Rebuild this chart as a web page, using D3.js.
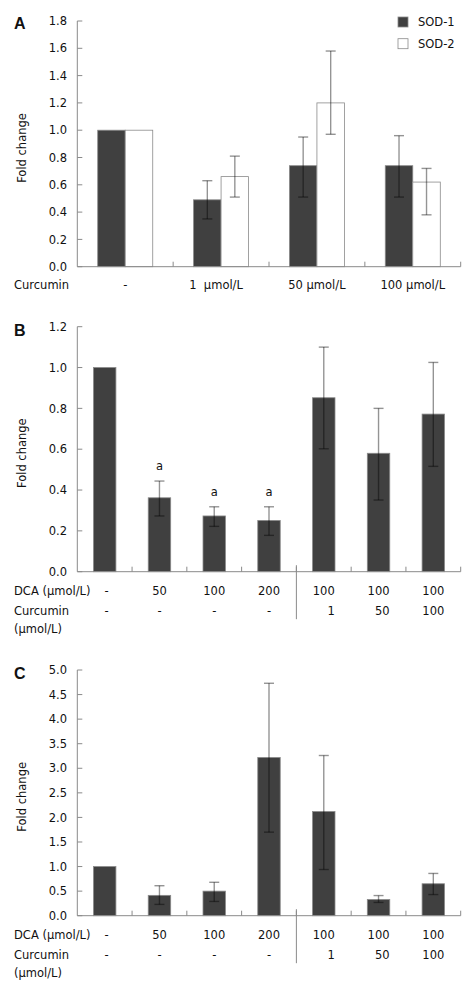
<!DOCTYPE html>
<html><head><meta charset="utf-8">
<script src="https://cdn.jsdelivr.net/npm/d3@7"></script>
<style>
body{margin:0;background:#fff;}
svg{display:block;font-family:"DejaVu Sans",Verdana,sans-serif;}
text{white-space:pre;}
</style></head>
<body>
<svg id="chart" width="472" height="991"></svg>
<script>
// ---------- Panel A data ----------
const catsA = ["-", "1  μmol/L", "50 μmol/L", "100 μmol/L"];
const seriesA = ["SOD-1", "SOD-2"];
const sod1 = [1.0, 0.49, 0.74, 0.74];
const sod1Lo = [1.0, 0.35, 0.51, 0.51];
const sod1Hi = [1.0, 0.63, 0.95, 0.96];
const sod2 = [1.0, 0.66, 1.2, 0.62];
const sod2Lo = [1.0, 0.51, 0.97, 0.38];
const sod2Hi = [1.0, 0.81, 1.58, 0.72];
const ticksA = [0, 0.2, 0.4, 0.6, 0.8, 1.0, 1.2, 1.4, 1.6, 1.8];

// ---------- Panel B / C shared categories ----------
const dcaLabels = ["-", "50", "100", "200", "100", "100", "100"];
const curLabels = ["-", "-", "-", "-", "1", "50", "100"];

// ---------- Panel B data ----------
const valsB = [1.0, 0.362, 0.273, 0.251, 0.852, 0.58, 0.772];
const loB   = [1.0, 0.273, 0.222, 0.178, 0.602, 0.351, 0.516];
const hiB   = [1.0, 0.444, 0.318, 0.318, 1.10, 0.80, 1.025];
const sigB  = ["", "a", "a", "a", "", "", ""];
const ticksB = [0, 0.2, 0.4, 0.6, 0.8, 1.0, 1.2];

// ---------- Panel C data ----------
const valsC = [1.0, 0.414, 0.50, 3.22, 2.12, 0.33, 0.65];
const loC   = [1.0, 0.23, 0.29, 1.70, 0.94, 0.27, 0.43];
const hiC   = [1.0, 0.61, 0.68, 4.73, 3.26, 0.41, 0.86];
const ticksC = [0, 0.5, 1.0, 1.5, 2.0, 2.5, 3.0, 3.5, 4.0, 4.5, 5.0];

const svg = d3.select("#chart");
const FS = "11.5px";
const axisColor = "#8a8a8a";
const barColor = "#404040";
const X0 = 77.3, X1 = 460.7;

function yAxis(g, y, ticks, fmt, yTop, yBot) {
  g.append("line").attr("x1", X0).attr("x2", X0).attr("y1", yTop).attr("y2", yBot)
    .attr("stroke", axisColor).attr("stroke-width", 1);
  ticks.forEach(t => {
    g.append("line").attr("x1", X0).attr("x2", X0 + 5).attr("y1", y(t)).attr("y2", y(t))
      .attr("stroke", axisColor).attr("stroke-width", 1);
    g.append("text").attr("x", 67).attr("y", y(t)).attr("dy", "0.36em")
      .attr("text-anchor", "end").attr("font-size", FS).attr("fill", "#111").text(fmt(t));
  });
}

function xAxisLine(g, x, n, yBot) {
  g.append("line").attr("x1", X0).attr("x2", X1).attr("y1", yBot).attr("y2", yBot)
    .attr("stroke", axisColor).attr("stroke-width", 1);
  for (let i = 1; i <= n; i++) {
    const xx = i < n ? x(i) : X1;
    g.append("line").attr("x1", xx).attr("x2", xx).attr("y1", yBot).attr("y2", yBot - 5)
      .attr("stroke", axisColor).attr("stroke-width", 1);
  }
}

function errBar(g, cx, y, lo, hi) {
  const st = {stroke: "#000", "stroke-opacity": 0.42, "stroke-width": 1.4};
  const l1 = g.append("line").attr("x1", cx).attr("x2", cx).attr("y1", y(hi)).attr("y2", y(lo));
  const l2 = g.append("line").attr("x1", cx - 5).attr("x2", cx + 5).attr("y1", y(hi)).attr("y2", y(hi));
  const l3 = g.append("line").attr("x1", cx - 5).attr("x2", cx + 5).attr("y1", y(lo)).attr("y2", y(lo));
  [l1, l2, l3].forEach(l => Object.entries(st).forEach(([k, v]) => l.attr(k, v)));
}

function ylabel(g, mid) {
  g.append("text").attr("transform", `translate(26,${mid}) rotate(-90)`)
    .attr("text-anchor", "middle").attr("font-size", FS).attr("fill", "#111").text("Fold change");
}

function panelLetter(g, letter, yb) {
  g.append("text").attr("x", 14).attr("y", yb).attr("font-size", "16px").attr("font-weight", "bold")
    .attr("font-family", "'Liberation Sans', Arial, sans-serif").attr("fill", "#111").text(letter);
}

// ---------------- Panel A ----------------
(function() {
  const yTop = 21, yBot = 266.7;
  const g = svg.append("g");
  const y = d3.scaleLinear().domain([0, 1.8]).range([yBot, yTop]);
  const x = d3.scaleBand().domain(d3.range(catsA.length)).range([X0, X1]).padding(0);
  const bw = x.bandwidth();
  const inner = d3.scaleBand().domain(seriesA).range([bw * 0.213, bw * 0.787]).padding(0);
  const data = [
    {s: "SOD-1", v: sod1, lo: sod1Lo, hi: sod1Hi, fill: barColor},
    {s: "SOD-2", v: sod2, lo: sod2Lo, hi: sod2Hi, fill: "#fff"}
  ];
  data.forEach(d => {
    d.v.forEach((v, i) => {
      g.append("rect").attr("x", x(i) + inner(d.s)).attr("y", y(v))
        .attr("width", inner.bandwidth()).attr("height", yBot - y(v))
        .attr("fill", d.fill).attr("stroke", axisColor).attr("stroke-width", 0.8);
    });
  });
  xAxisLine(g, x, catsA.length, yBot);
  yAxis(g, y, ticksA, d3.format(".1f"), yTop, yBot);
  data.forEach(d => {
    d.v.forEach((v, i) => {
      if (i === 0) return;
      errBar(g, x(i) + inner(d.s) + inner.bandwidth() / 2, y, d.lo[i], d.hi[i]);
    });
  });
  catsA.forEach((c, i) => {
    g.append("text").attr("x", x(i) + bw / 2 - (i === 1 ? 5 : 0)).attr("y", yBot + 22.3)
      .attr("text-anchor", "middle").attr("font-size", FS).attr("fill", "#111").text(c);
  });
  g.append("text").attr("x", 14).attr("y", yBot + 22.3).attr("font-size", FS).attr("fill", "#111").text("Curcumin");
  ylabel(g, 148);
  panelLetter(g, "A", 29);
  // legend
  const leg = g.append("g");
  seriesA.forEach((s, i) => {
    const ly = 22 + i * 21.7;
    leg.append("rect").attr("x", 398).attr("y", ly - 5).attr("width", 10).attr("height", 10)
      .attr("fill", data[i].fill).attr("stroke", axisColor).attr("stroke-width", 0.8);
    leg.append("text").attr("x", 418).attr("y", ly).attr("dy", "0.36em")
      .attr("font-size", FS).attr("fill", "#111").text(s);
  });
})();

// ---------------- Panels B & C ----------------
function panelBC(letter, vals, lo, hi, ticks, dmax, yTop, yBot, sig) {
  const g = svg.append("g");
  const y = d3.scaleLinear().domain([0, dmax]).range([yBot, yTop]);
  const x = d3.scaleBand().domain(d3.range(vals.length)).range([X0, X1]).padding(0);
  const bw = x.bandwidth();
  const barW = bw * 0.41;
  vals.forEach((v, i) => {
    g.append("rect").attr("x", x(i) + (bw - barW) / 2).attr("y", y(v))
      .attr("width", barW).attr("height", yBot - y(v))
      .attr("fill", barColor).attr("stroke", axisColor).attr("stroke-width", 0.8);
  });
  xAxisLine(g, x, vals.length, yBot);
  yAxis(g, y, ticks, d3.format(".1f"), yTop, yBot);
  vals.forEach((v, i) => {
    if (i === 0) return;
    errBar(g, x(i) + bw / 2, y, lo[i], hi[i]);
  });
  if (sig) sig.forEach((s, i) => {
    if (!s) return;
    g.append("text").attr("x", x(i) + bw / 2).attr("y", y(hi[i]) - 11)
      .attr("text-anchor", "middle").attr("font-size", FS).attr("fill", "#111").text(s);
  });
  // separator
  const sx = x(4);
  g.append("line").attr("x1", sx).attr("x2", sx).attr("y1", yBot - 6.5).attr("y2", yBot + 47.5)
    .attr("stroke", axisColor).attr("stroke-width", 1);
  // category rows
  g.append("text").attr("x", 14).attr("y", yBot + 23).attr("font-size", FS).attr("fill", "#111").text("DCA (μmol/L)");
  g.append("text").attr("x", 14).attr("y", yBot + 43.5).attr("font-size", FS).attr("fill", "#111").text("Curcumin");
  g.append("text").attr("x", 14).attr("y", yBot + 61.5).attr("font-size", FS).attr("fill", "#111").text("(μmol/L)");
  dcaLabels.forEach((c, i) => {
    g.append("text").attr("x", x(i) + bw / 2 + (i === 0 ? 2 : 0)).attr("y", yBot + 23)
      .attr("text-anchor", "middle").attr("font-size", FS).attr("fill", "#111").text(c);
  });
  curLabels.forEach((c, i) => {
    const isDash = c === "-";
    g.append("text").attr("x", x(i) + bw / 2 + (isDash ? (i === 0 ? 2 : 0) : 11)).attr("y", yBot + 43.5)
      .attr("text-anchor", isDash ? "middle" : "end").attr("font-size", FS).attr("fill", "#111").text(c);
  });
  ylabel(g, (yTop + yBot) / 2 + 4);
  panelLetter(g, letter, yTop + 8.8);
}

panelBC("B", valsB, loB, hiB, ticksB, 1.2, 326.7, 571.7, sigB);
panelBC("C", valsC, loC, hiC, ticksC, 5.0, 670, 915.7, null);
</script>
</body></html>
